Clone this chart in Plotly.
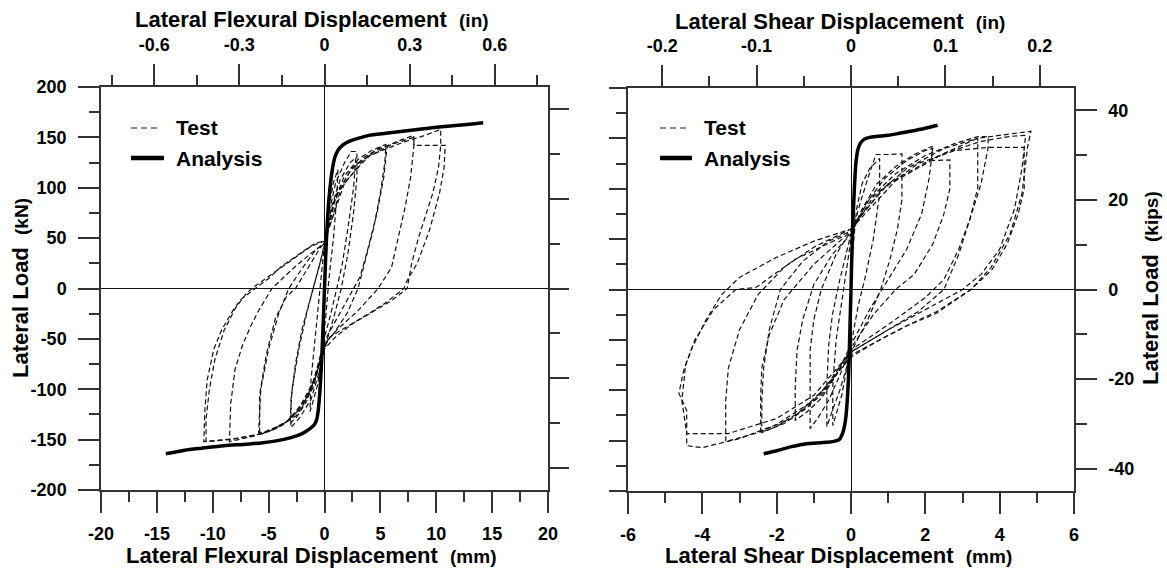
import plotly.graph_objects as go

# ---------------------------------------------------------------------------
# Flexural displacement (mm) vs lateral load (kN) - cyclic test loops
# ---------------------------------------------------------------------------
FLEX_T1_MM = [0, 0.15, 0.4, 0.8, 1.2, 1.1, 0.8, 0.4, 0.1, -0.2, -0.6, -1.1, -1.3, -1.2, -0.8, -0.4, -0.1, 0.0]
FLEX_T1_KN = [0, 40, 80, 105, 118, 90, 50, 10, -30, -60, -95, -115, -122, -90, -45, -5, 30, 45]

FLEX_T2_MM = [0, 0.4, 1.0, 1.8, 2.4, 2.9, 2.9, 2.6, 2.1, 1.5, 0.8, 0.2, -0.4, -1.2, -2.2, -3.0, -3.0, -2.6, -2.0, -1.0, -0.4, 0]
FLEX_T2_KN = [45, 75, 105, 125, 136, 136, 110, 75, 35, 0, -30, -52, -80, -110, -128, -138, -110, -75, -40, 0, 25, 45]

FLEX_T3_MM = [0, 0.6, 1.4, 2.3, 2.8, 2.6, 2.1, 1.6, 1.1, 0.5, 0, -0.7, -1.6, -2.5, -3.1, -2.9, -2.3, -1.6, -0.9, -0.3, 0]
FLEX_T3_KN = [42, 80, 108, 125, 130, 100, 60, 25, 0, -28, -48, -85, -112, -128, -134, -100, -60, -25, 5, 30, 42]

FLEX_T4_MM = [0, 0.8, 1.8, 3.0, 4.2, 5.5, 5.4, 5.0, 4.4, 3.6, 3.0, 2.0, 0.8, 0, -0.8, -2.0, -3.5, -4.8, -5.8, -5.8, -5.2, -4.4, -3.4, -2.6, -1.4, -0.4, 0]
FLEX_T4_KN = [45, 85, 112, 128, 137, 143, 125, 95, 60, 25, 0, -25, -45, -55, -88, -118, -133, -141, -145, -105, -65, -30, -8, 0, 22, 40, 45]

FLEX_T5_MM = [0, 1.0, 2.2, 3.5, 5.0, 5.6, 5.3, 4.7, 3.9, 3.2, 2.6, 1.5, 0.5, 0, -1.0, -2.4, -3.8, -5.0, -5.9, -5.7, -5.0, -4.1, -3.2, -2.0, -0.8, 0]
FLEX_T5_KN = [45, 90, 115, 130, 140, 141, 110, 75, 40, 12, 0, -22, -42, -52, -92, -122, -136, -142, -143, -100, -60, -25, 0, 20, 38, 45]

FLEX_T6_MM = [0, 1.0, 2.5, 4.5, 6.5, 8.0, 8.0, 7.7, 7.2, 6.6, 6.0, 4.8, 3.0, 1.2, 0, -1.0, -2.5, -4.5, -6.5, -8.5, -8.4, -8.0, -7.3, -6.5, -5.9, -4.7, -3.0, -1.2, 0]
FLEX_T6_KN = [45, 92, 120, 136, 146, 152, 142, 110, 80, 50, 21, 0, -22, -40, -55, -98, -126, -140, -147, -152, -115, -80, -55, -35, -22, 0, 18, 35, 45]

FLEX_T7_MM = [0, 1.5, 3.5, 6.0, 8.0, 8.0, 10.8, 10.7, 10.3, 9.4, 8.3, 7.4, 7.1, 5.5, 4.1, 2.0, 0.5, 0, -1.2, -3.0, -5.5, -8.0, -10.8, -10.7, -10.5, -9.9, -9.2, -8.2, -7.5, -6.2, -5.0, -3.85, -2.0, -0.85, 0]
FLEX_T7_KN = [45, 100, 128, 143, 150, 142, 142, 120, 95, 58, 25, 8, 0, -14, -24, -38, -48, -58, -100, -130, -144, -149, -152, -120, -91, -60, -41, -22, -11, 0, 10, 22, 36, 45, 47]

FLEX_T8_MM = [0, 1.8, 4.0, 7.0, 9.0, 10.4, 10.4, 10.2, 9.7, 9.1, 8.4, 7.8, 7.4, 6.0, 4.5, 2.5, 1.0, 0, -1.5, -3.5, -6.0, -8.5, -10.6, -10.6, -10.3, -9.8, -9.0, -8.0, -7.0, -6.5, -5.0, -3.0, -1.2, 0]
FLEX_T8_KN = [47, 105, 132, 145, 152, 158, 142, 120, 95, 75, 50, 25, 0, -12, -22, -35, -48, -60, -108, -134, -145, -150, -152, -130, -100, -70, -42, -20, -5, 0, 12, 28, 42, 47]

# Flexural analysis envelope
FLEX_AN_POS_MM = [0, 0.1, 0.25, 0.45, 0.7, 0.95, 1.2, 1.6, 2.2, 3.0, 4.0, 5.5, 7.0, 8.5, 10.0, 11.5, 13.0, 14.2]
FLEX_AN_POS_KN = [0, 30, 65, 95, 118, 131, 137, 142, 146, 149, 152, 154, 156, 158, 160, 161.5, 163, 164.5]
FLEX_AN_NEG_MM = [0, -0.1, -0.25, -0.4, -0.55, -0.7, -0.9, -1.3, -2.0, -3.0, -4.2, -5.5, -7.0, -9.0, -11.0, -12.5, -14.2]
FLEX_AN_NEG_KN = [0, -30, -70, -100, -120, -130, -135, -139, -144, -148, -151, -153, -154.5, -156, -158.5, -160.5, -164]

# ---------------------------------------------------------------------------
# Shear displacement (mm) vs lateral load (kN) - cyclic test loops
# ---------------------------------------------------------------------------
SHEAR_T1_MM = [0, 0.05, 0.15, 0.3, 0.5, 0.77, 0.77, 0.6, 0.4, 0.2, 0.05, -0.1, -0.25, -0.49, -0.49, -0.4, -0.25, -0.1, 0]
SHEAR_T1_KN = [0, 40, 80, 105, 120, 130, 95, 50, 15, -15, -45, -75, -105, -135, -95, -50, -10, 25, 50]

SHEAR_T2_MM = [0, 0.2, 0.45, 0.67, 1.0, 1.37, 1.37, 1.25, 1.05, 0.8, 0.45, 0.1, -0.1, -0.3, -0.5, -0.65, -0.65, -0.6, -0.5, -0.3, -0.1, 0]
SHEAR_T2_KN = [50, 80, 110, 134, 134, 134.5, 89, 60, 30, 0, -30, -55, -75, -100, -120, -136, -95, -55, -25, 10, 40, 55]

SHEAR_T3_MM = [0, 0.3, 0.7, 1.2, 1.7, 2.18, 2.18, 2.66, 2.66, 2.5, 2.2, 1.7, 1.2, 0.6, 0, -0.3, -0.6, -0.9, -1.1, -1.1, -1.1, -1.0, -0.8, -0.4, 0]
SHEAR_T3_KN = [55, 80, 105, 122, 134, 142, 128, 128.6, 100, 75, 45, 15, 0, -25, -58, -85, -110, -128, -138, -100, -60, -30, 0, 35, 58]

SHEAR_T4_MM = [0, 0.4, 0.9, 1.5, 2.0, 2.2, 2.1, 1.9, 1.5, 1.0, 0.5, 0, -0.4, -0.8, -1.2, -1.5, -1.5, -1.45, -1.3, -1.0, -0.5, 0]
SHEAR_T4_KN = [55, 85, 110, 128, 138, 140, 110, 75, 40, 10, -20, -55, -85, -108, -122, -130, -95, -60, -30, 5, 35, 55]

SHEAR_T5_MM = [0, 0.5, 1.2, 2.0, 2.8, 3.41, 3.69, 3.69, 3.5, 3.2, 2.9, 2.5, 1.8, 1.0, 0, -0.6, -1.2, -1.8, -2.4, -2.4, -2.35, -2.2, -1.9, -1.3, -0.6, 0]
SHEAR_T5_KN = [58, 90, 115, 133, 145, 151.7, 151.7, 141, 105, 70, 35, 0, -22, -40, -62, -95, -118, -133, -142, -110, -78, -40, 0, 28, 48, 58]

SHEAR_T6_MM = [0, 0.6, 1.5, 2.5, 3.41, 3.41, 3.2, 2.9, 2.5, 2.0, 1.0, 0, -0.7, -1.4, -2.0, -2.43, -2.43, -2.4, -2.2, -1.8, -1.0, -0.4, 0]
SHEAR_T6_KN = [58, 92, 120, 140, 150, 101, 70, 40, 10, -8, -35, -60, -98, -122, -136, -142, -105, -78, -45, -10, 25, 45, 58]

SHEAR_T7_MM = [0, 0.8, 1.8, 2.8, 3.69, 4.66, 4.66, 4.5, 4.2, 3.8, 3.23, 2.3, 1.5, 0.77, 0, -0.8, -1.6, -2.5, -3.37, -3.37, -3.3, -3.0, -2.5, -1.8, -1.0, 0]
SHEAR_T7_KN = [60, 98, 125, 138, 141, 141, 100, 75, 45, 20, 0, -22, -36, -50, -65, -105, -128, -142, -151, -110, -78, -40, -5, 22, 42, 60]

SHEAR_T8_MM = [0, 1.0, 2.2, 3.4, 4.2, 4.84, 4.75, 4.6, 4.28, 3.77, 3.23, 2.28, 1.5, 0.77, 0, -1.0, -2.0, -3.0, -3.8, -4.0, -4.42, -4.42, -4.63, -4.5, -4.3, -3.9, -3.48, -3.0, -2.0, -1.0, 0]
SHEAR_T8_KN = [62, 105, 130, 150, 154, 157, 141, 95, 55, 22, 0, -24, -36, -50, -67, -110, -134, -148, -155, -157, -155, -120, -103, -80, -60, -30, -5, 12, 32, 48, 60]

SHEAR_T9_MM = [0, 1.2, 2.5, 3.5, 4.3, 4.7, 4.6, 4.4, 4.0, 3.5, 3.0, 2.0, 1.0, 0, -1.0, -2.0, -3.3, -4.42, -4.55, -4.45, -4.2, -3.7, -3.1, -2.56, -1.5, -0.25]
SHEAR_T9_KN = [60, 108, 135, 147, 152, 153, 120, 80, 40, 15, 0, -20, -40, -62, -105, -128, -143, -143, -110, -75, -50, -20, 0, 2, 30, 52]

# Shear analysis envelope
SHEAR_AN_POS_MM = [0, 0.02, 0.05, 0.09, 0.13, 0.18, 0.25, 0.35, 0.5, 0.7, 1.0, 1.3, 1.6, 2.0, 2.33]
SHEAR_AN_POS_KN = [0, 30, 65, 100, 125, 138, 145, 149, 151, 152, 153, 155, 157, 160, 163]
SHEAR_AN_NEG_MM = [0, -0.03, -0.06, -0.1, -0.15, -0.22, -0.32, -0.5, -0.8, -1.2, -1.6, -2.0, -2.35]
SHEAR_AN_NEG_KN = [0, -40, -80, -110, -130, -142, -149, -151, -152, -153, -156, -160, -163]

# ---------------------------------------------------------------------------
# Tick positions and labels
# ---------------------------------------------------------------------------
FLEX_MM_TICKS = [-20, -15, -10, -5, 0, 5, 10, 15, 20]
FLEX_MM_LABELS = ["-20", "-15", "-10", "-5", "0", "5", "10", "15", "20"]
FLEX_IN_TICKS = [-0.6, -0.3, 0, 0.3, 0.6]
FLEX_IN_LABELS = ["-0.6", "-0.3", "0", "0.3", "0.6"]
SHEAR_MM_TICKS = [-6, -4, -2, 0, 2, 4, 6]
SHEAR_MM_LABELS = ["-6", "-4", "-2", "0", "2", "4", "6"]
SHEAR_IN_TICKS = [-0.2, -0.1, 0, 0.1, 0.2]
SHEAR_IN_LABELS = ["-0.2", "-0.1", "0", "0.1", "0.2"]
KN_TICKS = [-200, -150, -100, -50, 0, 50, 100, 150, 200]
KN_LABELS = ["-200", "-150", "-100", "-50", "0", "50", "100", "150", "200"]
KIP_TICKS = [-40, -20, 0, 20, 40]
KIP_LABELS = ["-40", "-20", "0", "20", "40"]

FLEX_TESTS = [(FLEX_T1_MM, FLEX_T1_KN), (FLEX_T2_MM, FLEX_T2_KN), (FLEX_T3_MM, FLEX_T3_KN),
              (FLEX_T4_MM, FLEX_T4_KN), (FLEX_T5_MM, FLEX_T5_KN), (FLEX_T6_MM, FLEX_T6_KN),
              (FLEX_T7_MM, FLEX_T7_KN), (FLEX_T8_MM, FLEX_T8_KN)]
SHEAR_TESTS = [(SHEAR_T1_MM, SHEAR_T1_KN), (SHEAR_T2_MM, SHEAR_T2_KN), (SHEAR_T3_MM, SHEAR_T3_KN),
               (SHEAR_T4_MM, SHEAR_T4_KN), (SHEAR_T5_MM, SHEAR_T5_KN), (SHEAR_T6_MM, SHEAR_T6_KN),
               (SHEAR_T7_MM, SHEAR_T7_KN), (SHEAR_T8_MM, SHEAR_T8_KN), (SHEAR_T9_MM, SHEAR_T9_KN)]

# Unit conversions for the secondary axes
MM_PER_IN = 25.4
KN_PER_KIP = 4.4482216

W, H = 1167, 571
FONT = "Liberation Sans, Arial, sans-serif"
AX_COLOR = "#333333"
TEST_DASH = "5px,3px"
TEST_COLOR = "#111111"


def fx(px):
    return px / W


def fy(py):
    return 1 - py / H


def bold(labels):
    return ["<b>%s</b>" % s for s in labels]


fig = go.Figure()

for xs, ys in FLEX_TESTS:
    fig.add_trace(go.Scatter(x=xs, y=ys, mode="lines", xaxis="x", yaxis="y",
                             line=dict(color=TEST_COLOR, width=1.2, dash=TEST_DASH),
                             showlegend=False, hoverinfo="skip"))
for xs, ys in [(FLEX_AN_POS_MM, FLEX_AN_POS_KN), (FLEX_AN_NEG_MM, FLEX_AN_NEG_KN)]:
    fig.add_trace(go.Scatter(x=xs, y=ys, mode="lines", xaxis="x", yaxis="y",
                             line=dict(color="black", width=3.5, shape="spline", smoothing=0.6),
                             showlegend=False, hoverinfo="skip"))

for xs, ys in SHEAR_TESTS:
    fig.add_trace(go.Scatter(x=xs, y=ys, mode="lines", xaxis="x3", yaxis="y3",
                             line=dict(color=TEST_COLOR, width=1.2, dash=TEST_DASH),
                             showlegend=False, hoverinfo="skip"))
for xs, ys in [(SHEAR_AN_POS_MM, SHEAR_AN_POS_KN), (SHEAR_AN_NEG_MM, SHEAR_AN_NEG_KN)]:
    fig.add_trace(go.Scatter(x=xs, y=ys, mode="lines", xaxis="x3", yaxis="y3",
                             line=dict(color="black", width=3.5, shape="spline", smoothing=0.6),
                             showlegend=False, hoverinfo="skip"))

# invisible anchors so the secondary (in / kips) axes are drawn
for xa, ya in [("x2", "y2"), ("x4", "y4")]:
    fig.add_trace(go.Scatter(x=[0], y=[0], xaxis=xa, yaxis=ya, mode="markers",
                             marker=dict(opacity=0), showlegend=False, hoverinfo="skip"))

tickfont = dict(family=FONT, size=18, color="black")


def axis(rng, ticks, labels, minor_dtick, ticklen, minor_len, show=True, **kw):
    d = dict(range=rng, tickmode="array", tickvals=ticks, ticktext=bold(labels),
             ticks="outside", ticklen=ticklen,
             tickwidth=1.5, tickcolor=AX_COLOR, showline=True, linecolor=AX_COLOR,
             linewidth=1.5, showgrid=False, zeroline=False, showticklabels=show,
             tickfont=tickfont, automargin=False, fixedrange=True,
             minor=dict(tickmode="linear", ticks="outside", ticklen=minor_len,
                        dtick=minor_dtick, tick0=0, tickwidth=1.5, tickcolor=AX_COLOR,
                        showgrid=False))
    d.update(kw)
    return d


L_DOM_X = [fx(101), fx(548)]
L_DOM_Y = [fy(490), fy(87)]
R_DOM_X = [fx(628), fx(1074)]
R_DOM_Y = [fy(491), fy(88)]

KIP_RANGE = [-200 / KN_PER_KIP, 200 / KN_PER_KIP]

fig.update_layout(
    width=W, height=H,
    margin=dict(l=0, r=0, t=0, b=0),
    paper_bgcolor="white", plot_bgcolor="white",
    showlegend=False,
    # flexural panel
    xaxis=axis([-20, 20], FLEX_MM_TICKS, FLEX_MM_LABELS, 2.5, 21, 10, domain=L_DOM_X,
               anchor="y", zeroline=True, zerolinecolor="#111", zerolinewidth=1,
               ticklabelstandoff=6),
    yaxis=axis([-200, 200], KN_TICKS, KN_LABELS, 25, 21, 10, domain=L_DOM_Y, anchor="x",
               zeroline=True, zerolinecolor="#111", zerolinewidth=1, ticklabelstandoff=8),
    xaxis2=axis([-20 / MM_PER_IN, 20 / MM_PER_IN], FLEX_IN_TICKS, FLEX_IN_LABELS, 0.15, 21, 10,
                overlaying="x", side="top", anchor="y", ticklabelstandoff=6),
    yaxis2=axis(KIP_RANGE, KIP_TICKS, KIP_LABELS, 10, 19, 10, show=False,
                overlaying="y", side="right", anchor="x"),
    # shear panel
    xaxis3=axis([-6, 6], SHEAR_MM_TICKS, SHEAR_MM_LABELS, 1, 21, 10, domain=R_DOM_X,
                anchor="y3", zeroline=True, zerolinecolor="#111", zerolinewidth=1,
                ticklabelstandoff=6),
    yaxis3=axis([-200, 200], KN_TICKS, KN_LABELS, 25, 17, 10, show=False, domain=R_DOM_Y,
                anchor="x3", zeroline=True, zerolinecolor="#111", zerolinewidth=1),
    xaxis4=axis([-6 / MM_PER_IN, 6 / MM_PER_IN], SHEAR_IN_TICKS, SHEAR_IN_LABELS, 0.05, 21, 10,
                overlaying="x3", side="top", anchor="y3", ticklabelstandoff=6),
    yaxis4=axis(KIP_RANGE, KIP_TICKS, KIP_LABELS, 10, 21, 11, overlaying="y3",
                side="right", anchor="x3", ticklabelstandoff=8),
)

title_font = dict(family=FONT, size=22, color="black")
unit = "<span style='font-size:19px'>%s</span>"

annotations = [
    dict(text="<b>Lateral Flexural Displacement  " + unit % "(in)" + "</b>", x=fx(312), y=fy(19)),
    dict(text="<b>Lateral Flexural Displacement  " + unit % "(mm)" + "</b>", x=fx(311), y=fy(555)),
    dict(text="<b>Lateral Shear Displacement  " + unit % "(in)" + "</b>", x=fx(840), y=fy(21)),
    dict(text="<b>Lateral Shear Displacement  " + unit % "(mm)" + "</b>", x=fx(838), y=fy(555)),
    dict(text="<b>Lateral Load  " + unit % "(kN)" + "</b>", x=fx(20), y=fy(288), textangle=-90),
    dict(text="<b>Lateral Load  " + unit % "(kips)" + "</b>", x=fx(1150), y=fy(288), textangle=-90),
]
for a in annotations:
    fig.add_annotation(xref="paper", yref="paper", showarrow=False,
                       xanchor="center", yanchor="middle", font=title_font, **a)

# panel legends
legend_font = dict(family=FONT, size=21, color="black")
for x0, dash_end, solid_end, tx in [(131, 158, 164, 174), (660, 686, 692, 702)]:
    fig.add_shape(type="line", xref="paper", yref="paper",
                  x0=fx(x0), x1=fx(dash_end), y0=fy(128), y1=fy(128),
                  line=dict(color="#1a1a1a", width=1.2, dash="6px,4px"))
    fig.add_shape(type="line", xref="paper", yref="paper",
                  x0=fx(x0), x1=fx(solid_end), y0=fy(158), y1=fy(158),
                  line=dict(color="black", width=4.5))
    fig.add_annotation(text="<b>Test</b>", xref="paper", yref="paper", x=fx(tx), y=fy(127),
                       xanchor="left", yanchor="middle", showarrow=False, font=legend_font)
    fig.add_annotation(text="<b>Analysis</b>", xref="paper", yref="paper", x=fx(tx), y=fy(158),
                       xanchor="left", yanchor="middle", showarrow=False, font=legend_font)

fig.write_html("out.html")
